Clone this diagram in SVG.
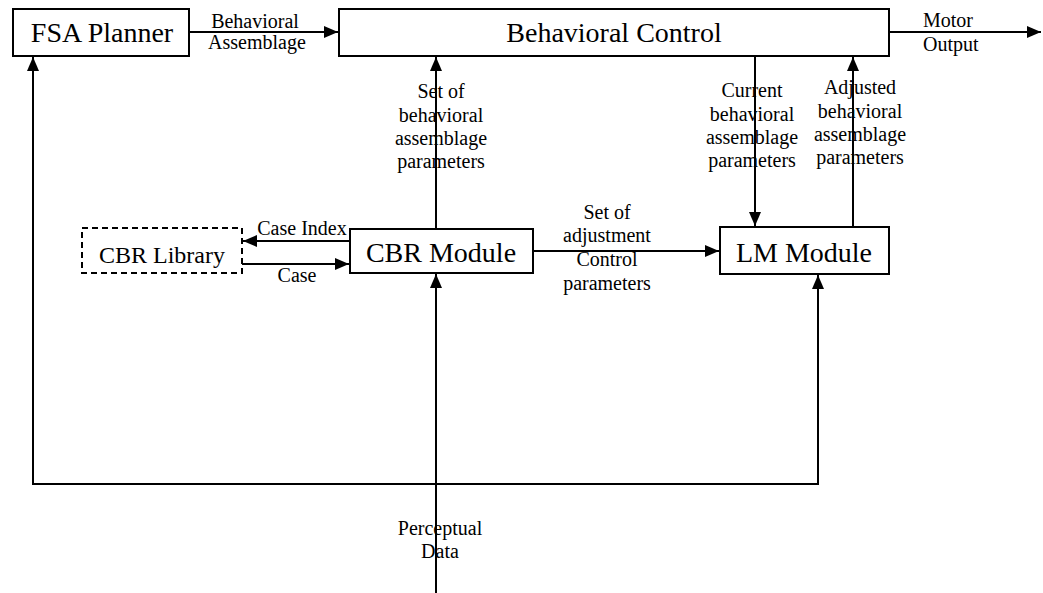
<svg xmlns="http://www.w3.org/2000/svg" width="1043" height="593" viewBox="0 0 1043 593">
<style>
.box{fill:#fff;stroke:#000;stroke-width:2}
.dash{fill:#fff;stroke:#000;stroke-width:2;stroke-dasharray:6 4}
.big{font-family:"Liberation Serif","Times New Roman",serif;font-size:28px;text-anchor:middle;fill:#000}
.lib{font-family:"Liberation Serif","Times New Roman",serif;font-size:24px;text-anchor:middle;fill:#000}
.lbl{font-family:"Liberation Serif","Times New Roman",serif;font-size:20px;text-anchor:middle;fill:#000}
.lbll{font-family:"Liberation Serif","Times New Roman",serif;font-size:20px;fill:#000}
.c{fill:none;stroke:#000;stroke-width:2}
</style>
<defs>
<marker id="ah" markerUnits="userSpaceOnUse" markerWidth="15" markerHeight="13" refX="14" refY="6" orient="auto">
<path d="M0,0 L14,6 L0,12 z" fill="#000"/>
</marker>
</defs>
<rect width="1043" height="593" fill="#fff"/>
<g id="connectors">
<line class="c" x1="189" y1="32" x2="338" y2="32" marker-end="url(#ah)"/>
<line class="c" x1="889" y1="32" x2="1041" y2="32" marker-end="url(#ah)"/>
<line class="c" x1="436" y1="229" x2="436" y2="57" marker-end="url(#ah)"/>
<line class="c" x1="755" y1="56" x2="755" y2="226" marker-end="url(#ah)"/>
<line class="c" x1="853" y1="227" x2="853" y2="57" marker-end="url(#ah)"/>
<line class="c" x1="350" y1="241" x2="243" y2="241" marker-end="url(#ah)"/>
<line class="c" x1="242" y1="264" x2="349" y2="264" marker-end="url(#ah)"/>
<line class="c" x1="533" y1="251" x2="719" y2="251" marker-end="url(#ah)"/>
<line class="c" x1="436" y1="593" x2="436" y2="274" marker-end="url(#ah)"/>
<polyline class="c" points="818,484 33,484 33,57" marker-end="url(#ah)"/>
<polyline class="c" points="33,484 818,484 818,275" marker-end="url(#ah)"/>
<text class="lbl" x="255" y="28">Behavioral</text>
<text class="lbl" x="257" y="49">Assemblage</text>
<text class="lbll" x="923" y="27">Motor</text>
<text class="lbll" x="923" y="51">Output</text>
<text class="lbl" x="441" y="98">Set of</text>
<text class="lbl" x="441" y="122">behavioral</text>
<text class="lbl" x="441" y="145">assemblage</text>
<text class="lbl" x="441" y="168">parameters</text>
<text class="lbl" x="752" y="97">Current</text>
<text class="lbl" x="752" y="121">behavioral</text>
<text class="lbl" x="752" y="144">assemblage</text>
<text class="lbl" x="752" y="167">parameters</text>
<text class="lbl" x="860" y="94">Adjusted</text>
<text class="lbl" x="860" y="118">behavioral</text>
<text class="lbl" x="860" y="141">assemblage</text>
<text class="lbl" x="860" y="164">parameters</text>
<text class="lbl" x="302" y="235">Case Index</text>
<text class="lbl" x="297" y="282">Case</text>
<text class="lbl" x="607" y="219">Set of</text>
<text class="lbl" x="607" y="242">adjustment</text>
<text class="lbl" x="607" y="266">Control</text>
<text class="lbl" x="607" y="290">parameters</text>
<text class="lbl" x="440" y="535">Perceptual</text>
<text class="lbl" x="440" y="558">Data</text>
</g>
<g id="fsa-planner">
<rect class="box" x="13" y="9" width="176" height="47"/>
<text class="big" x="102" y="42">FSA Planner</text>
</g>
<g id="behavioral-control">
<rect class="box" x="339" y="9" width="550" height="47"/>
<text class="big" x="614" y="42">Behavioral Control</text>
</g>
<g id="cbr-library">
<rect class="dash" x="82" y="228" width="160" height="45"/>
<text class="lib" x="162" y="263">CBR Library</text>
</g>
<g id="cbr-module">
<rect class="box" x="350" y="229" width="183" height="44"/>
<text class="big" x="441" y="262">CBR Module</text>
</g>
<g id="lm-module">
<rect class="box" x="720" y="227" width="169" height="47"/>
<text class="big" x="804" y="262">LM Module</text>
</g>
</svg>
